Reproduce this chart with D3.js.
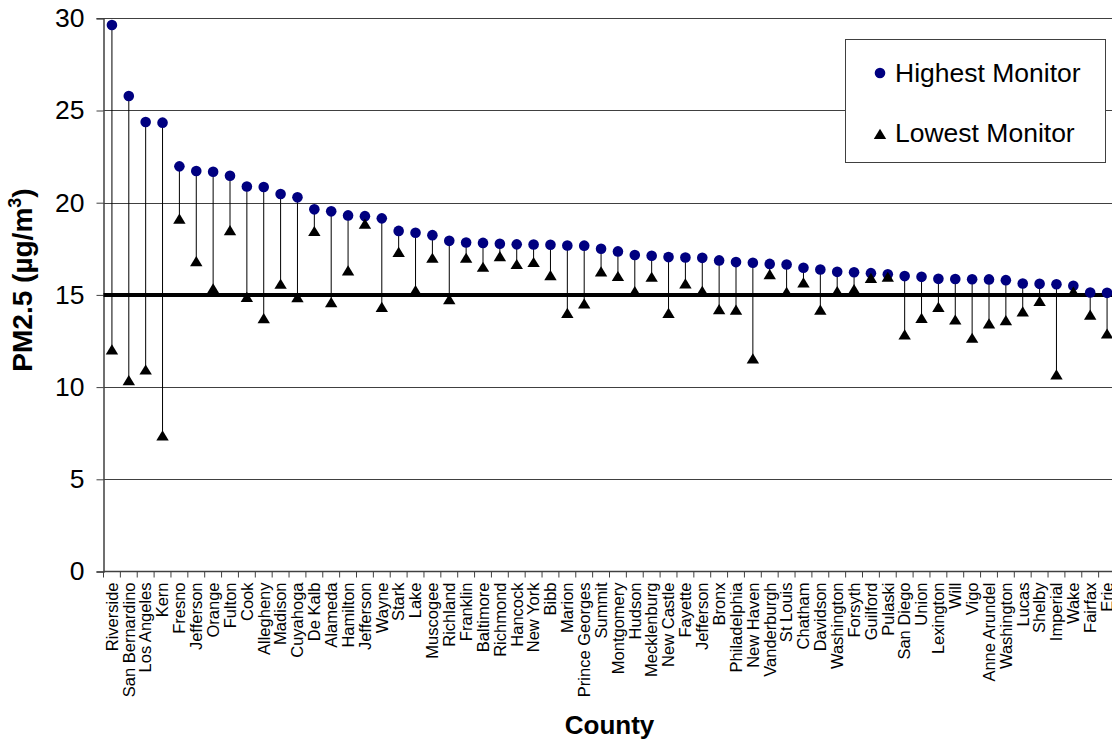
<!DOCTYPE html>
<html>
<head>
<meta charset="utf-8">
<script src="https://cdn.jsdelivr.net/npm/d3@7"></script>
<style>
  body { margin: 0; background: #fff; }
  svg { font-family: "Liberation Sans", Arial, sans-serif; }
</style>
</head>
<body>
<div id="chart"></div>
<script>
// Counties in the order shown, highest and lowest monitor readings (µg/m3)
const counties = ["Riverside", "San Bernardino", "Los Angeles", "Kern", "Fresno", "Jefferson", "Orange",
  "Fulton", "Cook", "Allegheny", "Madison", "Cuyahoga", "De Kalb", "Alameda", "Hamilton", "Jefferson",
  "Wayne", "Stark", "Lake", "Muscogee", "Richland", "Franklin", "Baltimore", "Richmond", "Hancock",
  "New York", "Bibb", "Marion", "Prince Georges", "Summit", "Montgomery", "Hudson", "Mecklenburg",
  "New Castle", "Fayette", "Jefferson", "Bronx", "Philadelphia", "New Haven", "Vanderburgh", "St Louis",
  "Chatham", "Davidson", "Washington", "Forsyth", "Guilford", "Pulaski", "San Diego", "Union",
  "Lexington", "Will", "Vigo", "Anne Arundel", "Washington", "Lucas", "Shelby", "Imperial", "Wake",
  "Fairfax", "Erie"];

const highest = [29.64, 25.79, 24.38, 24.34, 21.97, 21.72, 21.68, 21.46, 20.88, 20.85, 20.47, 20.29,
  19.64, 19.53, 19.31, 19.27, 19.15, 18.47, 18.37, 18.24, 17.93, 17.84, 17.82, 17.77, 17.74, 17.73,
  17.72, 17.68, 17.67, 17.5, 17.36, 17.16, 17.12, 17.05, 17.03, 17.01, 16.87, 16.78, 16.74, 16.68,
  16.65, 16.47, 16.38, 16.25, 16.23, 16.18, 16.12, 16.02, 15.98, 15.87, 15.86, 15.85, 15.84, 15.8,
  15.62, 15.6, 15.58, 15.49, 15.13, 15.11];

const lowest = [12.04, 10.37, 10.95, 7.38, 19.13, 16.83, 15.35, 18.51, 14.89, 13.73, 15.6, 14.87,
  18.46, 14.6, 16.32, 18.86, 14.35, 17.33, 15.25, 17.01, 14.77, 17.01, 16.52, 17.1, 16.67, 16.78,
  16.07, 14.02, 14.53, 16.27, 16.02, 15.2, 15.98, 14.02, 15.62, 15.22, 14.22, 14.2, 11.55, 16.12,
  15.16, 15.67, 14.2, 15.2, 15.31, 15.92, 15.98, 12.85, 13.75, 14.35, 13.66, 12.67, 13.45, 13.63,
  14.1, 14.67, 10.69, 15.18, 13.92, 12.9];

const yTicks = [0, 5, 10, 15, 20, 25, 30];
const standard = 15;
const seriesNames = ["Highest Monitor", "Lowest Monitor"];

const width = 1112;
const height = 740;
const margin = { left: 103.5, top: 18.3, bottom: 168.5 };
const plotWidth = 1012;
const plotBottom = height - margin.bottom;

const svg = d3.select("#chart")
  .append("svg")
  .attr("width", width)
  .attr("height", height);

const x = d3.scaleBand()
  .domain(d3.range(counties.length))
  .range([margin.left, margin.left + plotWidth]);

const y = d3.scaleLinear()
  .domain([0, 30])
  .range([plotBottom, margin.top]);

const trianglePath = "M0,-5.2L6.2,5L-6.2,5Z";

// gridlines
svg.append("g")
  .selectAll("line")
  .data(yTicks.filter((d) => d > 0))
  .enter()
  .append("line")
  .attr("x1", margin.left)
  .attr("x2", margin.left + plotWidth)
  .attr("y1", (d) => Math.round(y(d)) + 0.5)
  .attr("y2", (d) => Math.round(y(d)) + 0.5)
  .attr("stroke", "#404040")
  .attr("stroke-width", 1);

// y axis
const yAxis = svg.append("g")
  .attr("transform", `translate(${margin.left},0)`)
  .call(d3.axisLeft(y).tickValues(yTicks).tickSize(7).tickPadding(12));
yAxis.select(".domain").attr("stroke", "#404040").attr("stroke-width", 1.5);
yAxis.selectAll(".tick line").attr("stroke", "#404040");
yAxis.selectAll("text")
  .attr("font-size", 26.5)
  .attr("fill", "#000")
  .style("font-family", "Liberation Sans, Arial, sans-serif");

// x axis: labels at band centres, ticks at band edges
const xAxis = svg.append("g")
  .attr("transform", `translate(0,${plotBottom})`)
  .call(d3.axisBottom(x).tickSize(0).tickFormat((i) => counties[i]));
xAxis.select(".domain").remove();
xAxis.selectAll("text")
  .attr("font-size", 16.5)
  .attr("fill", "#000")
  .style("font-family", "Liberation Sans, Arial, sans-serif")
  .attr("text-anchor", "end")
  .attr("transform", "rotate(-90)")
  .attr("x", -11)
  .attr("y", 0)
  .attr("dy", "0.35em");

svg.append("g")
  .selectAll("line")
  .data(d3.range(counties.length))
  .enter()
  .append("line")
  .attr("x1", (i) => x(i))
  .attr("x2", (i) => x(i))
  .attr("y1", plotBottom)
  .attr("y2", plotBottom + 6)
  .attr("stroke", "#404040");

svg.append("line")
  .attr("x1", margin.left)
  .attr("x2", margin.left + plotWidth)
  .attr("y1", plotBottom)
  .attr("y2", plotBottom)
  .attr("stroke", "#404040")
  .attr("stroke-width", 1.5);

// PM2.5 standard line
svg.append("line")
  .attr("x1", margin.left)
  .attr("x2", margin.left + plotWidth)
  .attr("y1", y(standard))
  .attr("y2", y(standard))
  .attr("stroke", "#000")
  .attr("stroke-width", 4);

// stems between highest and lowest
svg.append("g")
  .selectAll("line")
  .data(d3.range(counties.length))
  .enter()
  .append("line")
  .attr("x1", (i) => x(i) + x.bandwidth() / 2)
  .attr("x2", (i) => x(i) + x.bandwidth() / 2)
  .attr("y1", (i) => y(highest[i]))
  .attr("y2", (i) => y(lowest[i]))
  .attr("stroke", "#000")
  .attr("stroke-width", 1);

// highest monitor
svg.append("g")
  .selectAll("circle")
  .data(highest)
  .enter()
  .append("circle")
  .attr("cx", (d, i) => x(i) + x.bandwidth() / 2)
  .attr("cy", (d) => y(d))
  .attr("r", 5.3)
  .attr("fill", "#000080");

// lowest monitor
svg.append("g")
  .selectAll("path")
  .data(lowest)
  .enter()
  .append("path")
  .attr("d", trianglePath)
  .attr("transform", (d, i) => `translate(${x(i) + x.bandwidth() / 2},${y(d)})`)
  .attr("fill", "#000");

// axis titles
svg.append("text")
  .attr("transform", "translate(32,280) rotate(-90)")
  .attr("text-anchor", "middle")
  .attr("font-size", 28)
  .attr("font-weight", "bold")
  .html('PM2.5 (\u00b5g/m<tspan dy="-11" font-size="18">3</tspan><tspan dy="11">)</tspan>');

svg.append("text")
  .attr("x", margin.left + plotWidth / 2)
  .attr("y", 734)
  .attr("text-anchor", "middle")
  .attr("font-size", 26)
  .attr("font-weight", "bold")
  .text("County");

// legend
const legend = svg.append("g");
legend.append("rect")
  .attr("x", 845.5)
  .attr("y", 39.5)
  .attr("width", 260)
  .attr("height", 123)
  .attr("fill", "#fff")
  .attr("stroke", "#404040")
  .attr("stroke-width", 1);
legend.append("circle")
  .attr("cx", 880)
  .attr("cy", 73)
  .attr("r", 5.3)
  .attr("fill", "#000080");
legend.append("path")
  .attr("d", trianglePath)
  .attr("transform", "translate(880,134)")
  .attr("fill", "#000");
legend.selectAll("text.item")
  .data(seriesNames)
  .enter()
  .append("text")
  .attr("class", "item")
  .attr("x", 895)
  .attr("y", (d, i) => 82 + i * 60)
  .attr("font-size", 26.5)
  .text((d) => d);
</script>
</body>
</html>
